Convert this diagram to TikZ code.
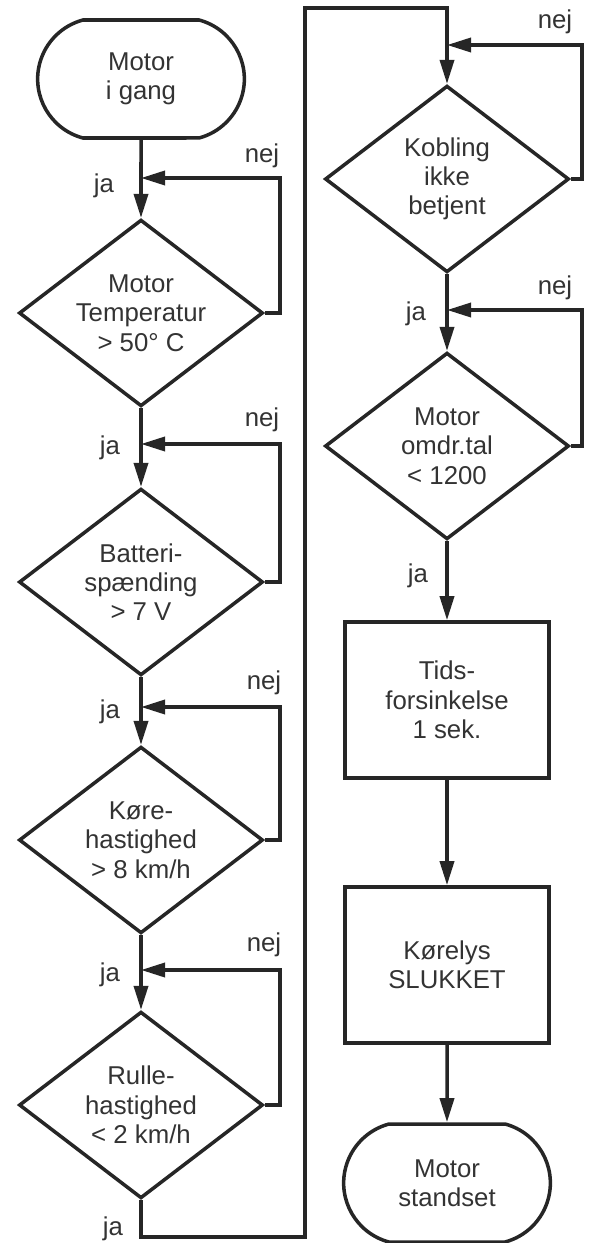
\documentclass[tikz,border=0pt]{standalone}
\usepackage{fontspec}
\setmainfont{Liberation Sans}
\usetikzlibrary{shapes,arrows.meta}

\begin{document}
\begin{tikzpicture}[x=0.03cm,y=-0.03cm,line width=3pt,color=black!85,
	>={Triangle[length=0.72cm,width=0.42cm]},
	txt/.style={font=\fontsize{22}{25}\selectfont,text=black!80,align=center},
	terminal/.style={txt,draw,rounded rectangle,rounded rectangle arc length=150,minimum width=6.2cm,minimum height=3.54cm,inner sep=0pt},
	decision/.style={txt,draw,diamond,aspect=1.3,minimum width=7.32cm,minimum height=5.6cm,inner sep=0pt},
	process/.style={txt,draw,rectangle,minimum width=6.12cm,minimum height=4.68cm},
	lbl/.style={font=\fontsize{22}{25}\selectfont,text=black!80,inner sep=0pt}]
	\useasboundingbox (0,0) rectangle (590,1243);

	\node[terminal] (start) at (141,79) {Motor\\i gang};
	\node[decision] (temp) at (141,313) {Motor\\Temperatur\\> 50° C};
	\node[decision] (batt) at (141,582) {Batteri-\\spænding\\> 7 V};
	\node[decision] (koer) at (141,840) {Køre-\\hastighed\\> 8 km/h};
	\node[decision] (rulle) at (141,1105) {Rulle-\\hastighed\\< 2 km/h};

	\node[decision] (kobl) at (447,179) {Kobling\\ikke\\betjent};
	\node[decision] (omdr) at (447,446) {Motor\\omdr.tal\\< 1200};
	\node[process] (tids) at (447,700) {Tids-\\forsinkelse\\1 sek.};
	\node[process] (lys) at (447,965) {Kørelys\\SLUKKET};
	\node[terminal] (stop) at (447,1183) {Motor\\standset};

	\coordinate (j1) at (141,178);
	\coordinate (n1) at (280,178);
	\coordinate (j2) at (141,444);
	\coordinate (n2) at (280,444);
	\coordinate (j3) at (141,707);
	\coordinate (n3) at (280,707);
	\coordinate (j4) at (141,970);
	\coordinate (n4) at (280,970);
	\coordinate (j5) at (447,45);
	\coordinate (n5) at (582,45);
	\coordinate (j6) at (447,310);
	\coordinate (n6) at (582,310);
	\coordinate (c1) at (305,1237);
	\coordinate (c2) at (305,8);

	\draw[->] (start) -- (temp);
	\draw[->] (temp) -- (batt);
	\draw[->] (batt) -- (koer);
	\draw[->] (koer) -- (rulle);
	\draw[->] (rulle.south) |- (c1) -- (c2) -| (kobl.north);
	\draw[->] (kobl) -- (omdr);
	\draw[->] (omdr) -- (tids);
	\draw[->] (tids) -- (lys);
	\draw[->] (lys) -- (stop);

	\draw[->] (temp.east) -| (n1) -- (j1);
	\draw[->] (batt.east) -| (n2) -- (j2);
	\draw[->] (koer.east) -| (n3) -- (j3);
	\draw[->] (rulle.east) -| (n4) -- (j4);
	\draw[->] (kobl.east) -| (n5) -- (j5);
	\draw[->] (omdr.east) -| (n6) -- (j6);

	\node[lbl] (nej1) at (262,156) {nej};
	\node[lbl] (nej2) at (262,420) {nej};
	\node[lbl] (nej3) at (264,683) {nej};
	\node[lbl] (nej4) at (264,945) {nej};
	\node[lbl] (nej5) at (555,22) {nej};
	\node[lbl] (nej6) at (555,288) {nej};
	\node[lbl] (ja1) at (104,186) {ja};
	\node[lbl] (ja2) at (110,448) {ja};
	\node[lbl] (ja3) at (110,712) {ja};
	\node[lbl] (ja4) at (110,975) {ja};
	\node[lbl] (ja5) at (113,1229) {ja};
	\node[lbl] (ja6) at (416,314) {ja};
	\node[lbl] (ja7) at (418,576) {ja};
\end{tikzpicture}
\end{document}
